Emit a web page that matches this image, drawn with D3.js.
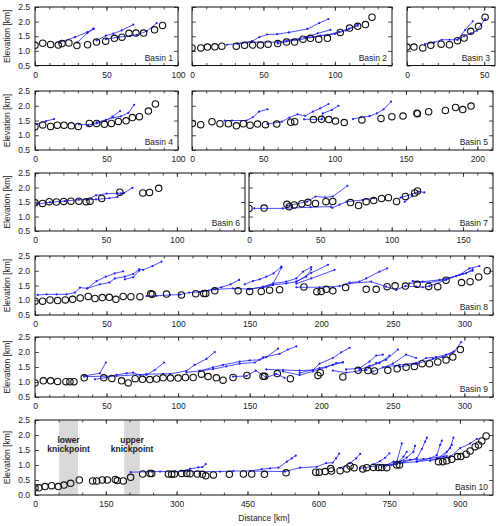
<!DOCTYPE html>
<html lang="en">
<head>
<meta charset="UTF-8">
<title>Basin profiles</title>
<script src="https://d3js.org/d3.v7.min.js"></script>
<style>
  body { margin: 0; background: #fff; }
  text { font-family: "Liberation Sans", Arial, sans-serif; }
</style>
</head>
<body>
<svg width="500" height="526"></svg>
<script>
// knickpoints (open circles) and tributary profiles (blue lines), [distance km, elevation km]
const basin1Knick = [[0,1.19],[5.4,1.26],[10.9,1.22],[16.3,1.2],[18.9,1.25],[23.7,1.27],[29.3,1.18],[36.8,1.21],[43,1.3],[49.4,1.33],[55.5,1.43],[60.8,1.47],[65.7,1.6],[70.6,1.61],[75.9,1.61],[83.6,1.72],[89.2,1.87]];
const basin1Trib = [
  [[17,1.29],[28,1.47],[36.6,1.64],[40.8,1.76]],
  [[29.6,1.29],[36.6,1.61],[41.2,1.75]],
  [[43.1,1.36],[49.6,1.52],[54.8,1.59],[60.6,1.7],[68.8,1.9]],
  [[49.6,1.4],[58.3,1.47],[66.4,1.51],[71.1,1.55],[78.1,1.67],[85.1,1.95]]
];

const basin2Knick = [[0,1.1],[6.2,1.1],[10.8,1.13],[16,1.14],[20.9,1.16],[31,1.16],[36.8,1.19],[42.5,1.2],[47.9,1.2],[53.3,1.23],[60,1.25],[66.2,1.3],[71.8,1.3],[77.7,1.4],[82.9,1.43],[88.7,1.4],[94.8,1.43],[103.8,1.63],[110.3,1.78],[116,1.84],[121.4,1.9],[126,2.15]];
const basin2Trib = [
  [[24.4,1.21],[31.9,1.25],[42,1.33],[47.2,1.47],[52.6,1.56],[59.6,1.57],[67.8,1.63],[80.8,1.75],[89,1.95],[95.5,2.09]],
  [[31.9,1.25],[42,1.3],[60,1.3],[70,1.38],[80,1.47],[88,1.6],[97,1.72]],
  [[60,1.25],[66,1.32],[75,1.38],[85,1.47],[95,1.55],[103,1.65],[110,1.76],[116,1.86]],
  [[80,1.45],[90,1.52],[100,1.58],[108,1.7],[116,1.9]]
];

const basin3Knick = [[0,1.13],[4.5,1.13],[10.2,1.1],[15.4,1.19],[22.1,1.23],[27.5,1.21],[32.7,1.35],[37,1.44],[41.3,1.67],[46.3,1.84],[50.6,2.15]];
const basin3Trib = [
  [[11.7,1.23],[17.6,1.29],[22.5,1.38],[27.5,1.38],[32.7,1.38],[37.7,1.72],[42.6,2.01]],
  [[32.7,1.38],[37,1.5],[41.3,1.6],[45.2,1.69],[50.6,2.09]]
];

const basin4Knick = [[0,1.29],[5.4,1.35],[10.9,1.3],[15.6,1.34],[20.3,1.34],[25.4,1.32],[30.3,1.3],[38,1.4],[43.1,1.4],[48.5,1.37],[53.4,1.4],[58.3,1.47],[63.7,1.49],[68.1,1.6],[73,1.63],[79.3,1.82],[84.2,2.06]];
const basin4Trib = [
  [[1.2,1.38],[7.7,1.48],[13.3,1.55]],
  [[30.8,1.37],[37.3,1.35],[43.1,1.4],[49,1.48],[54.1,1.63],[59.5,1.82]],
  [[43.1,1.44],[49.6,1.52],[54.8,1.6],[60,1.64],[65.3,1.76],[69.3,2.03]]
];

const basin5Knick = [[0.2,1.4],[6.1,1.36],[14,1.46],[19.6,1.39],[25.5,1.39],[31.1,1.32],[36,1.39],[40.7,1.34],[45.9,1.38],[51.5,1.36],[59.4,1.38],[69.2,1.44],[72,1.46],[85.1,1.53],[90.8,1.54],[95.9,1.53],[100.6,1.48],[106.7,1.43],[119.1,1.52],[132.5,1.57],[140.1,1.63],[147.9,1.65],[157.7,1.75],[158,1.73],[165.9,1.8],[177.6,1.84],[184.8,1.94],[189.8,1.87],[195.6,1.99]];
const basin5Trib = [
  [[22.8,1.5],[28.1,1.5],[38.2,1.5],[42.6,1.61],[47,1.8],[52.9,1.88]],
  [[52.9,1.38],[63,1.46],[68.3,1.6],[73.9,1.71],[79.3,1.66],[84.7,1.8],[89.8,1.91],[95.7,2.06]],
  [[78.6,1.54],[91,1.54],[91.7,1.74],[98,1.86],[102.7,2.0]],
  [[112.8,1.55],[118.6,1.61],[124.5,1.65],[129.6,1.74],[134.3,1.88],[139.5,2.14]]
];

const basin6Knick = [[0,1.47],[5.3,1.45],[10,1.51],[15.1,1.5],[20.2,1.52],[25.3,1.53],[30.9,1.53],[36,1.51],[38.8,1.53],[47,1.62],[59.8,1.84],[76,1.81],[80.7,1.83],[87.2,1.97]];
const basin6Trib = [
  [[1.2,1.43],[10.5,1.49],[20.9,1.53],[30.9,1.58],[36.5,1.58],[43,1.73],[50.5,1.79],[58.1,1.8],[62.8,1.81],[68.6,1.99]],
  [[36.5,1.58],[43,1.59],[52.3,1.63],[58.1,1.67],[60.5,1.79],[62.8,1.81]]
];

const basin7Knick = [[0,1.28],[10.6,1.29],[26.6,1.42],[28.2,1.34],[31.7,1.4],[37,1.44],[41.3,1.49],[46.6,1.45],[53.9,1.51],[58.7,1.52],[71.1,1.48],[76.8,1.38],[82.1,1.51],[87.4,1.55],[92.9,1.62],[97.7,1.65],[103.4,1.52],[109.6,1.69],[116.1,1.81],[118.1,1.88]];
const basin7Trib = [
  [[3.7,1.28],[23.6,1.28],[43.1,1.32],[57.3,1.34],[58.5,1.3],[63.5,1.41],[68.3,1.51],[79.8,1.57],[87.8,1.63]],
  [[26.6,1.37],[40.8,1.51],[46.6,1.69],[53.4,1.66],[58.7,1.69],[69,2.06]],
  [[106.2,1.65],[114.2,1.77],[118.8,1.86],[122.9,1.83]],
  [[109.2,1.51],[114.2,1.7]]
];

const basin8Knick = [[0,0.97],[5.3,0.97],[10.5,1.01],[15.8,0.99],[21.2,1.01],[26.3,1.03],[31.6,1.08],[37.2,1.13],[41.9,1.06],[47,1.09],[51.9,1.1],[56.5,1.03],[61.6,1.13],[67,1.12],[73.3,1.12],[80.9,1.22],[81.9,1.2],[91.9,1.21],[102.3,1.18],[112.3,1.22],[117.9,1.23],[119.3,1.23],[125.6,1.32],[141.9,1.32],[150,1.3],[158.1,1.3],[163.9,1.34],[170.9,1.36],[187.9,1.45],[196.9,1.29],[200,1.3],[203.5,1.37],[208.1,1.32],[217,1.43],[231.4,1.37],[238.4,1.37],[246,1.46],[251.6,1.49],[258.8,1.48],[267,1.54],[275.1,1.47],[281.4,1.46],[287.2,1.68],[298,1.6],[304,1.63],[310,1.79],[316,2.0]];
const basin8Trib = [
  [[1.9,1.18],[8.1,1.2],[15.1,1.2],[22.1,1.2],[27.9,1.26],[31.4,1.43],[36.5,1.4],[43,1.65],[49.5,1.8],[55.8,1.91],[61.6,1.98]],
  [[36.5,1.4],[45.3,1.54],[51.9,1.6],[55.8,1.74],[62.8,1.8],[68.6,1.89],[72.8,2.05],[75.6,2.03],[82.1,2.16],[88.4,2.31]],
  [[62.8,1.71],[68.6,1.78],[72.8,2.0]],
  [[77.9,1.14],[84.9,1.15],[94.2,1.18],[101.2,1.19],[107.7,1.26],[115.1,1.28],[124.4,1.37],[130.2,1.44],[136.7,1.54],[142.6,1.69]],
  [[115.1,1.28],[126,1.37],[138.4,1.4],[148.8,1.38],[159.3,1.44],[166.3,1.55],[172.1,2.1]],
  [[146.5,1.54],[152.3,1.65],[157,1.71],[161.6,1.8],[166.7,1.91],[172.1,2.14]],
  [[150,1.37],[159.3,1.46],[166.3,1.57],[175.6,1.63],[182.6,1.74],[187.2,1.97],[193,2.12]],
  [[159.3,1.42],[166.3,1.52],[175.6,1.57],[182.6,1.63],[189.5,1.8],[193,2.05]],
  [[182.6,1.63],[193,1.93],[204.7,2.2]],
  [[182.6,1.56],[193,1.74],[209.3,2.03]],
  [[182.6,1.44],[198.8,1.44],[212.8,1.48],[219.8,1.6],[226.7,1.63],[231.4,1.74],[240.7,1.97],[246,2.08]],
  [[219.8,1.57],[234.9,1.63],[245.3,1.46],[252.3,1.35],[258.8,1.48],[266.3,1.46],[270.9,1.44],[275.6,1.48],[287.2,1.69],[296.5,1.86],[303.5,2.08],[310.5,2.16]],
  [[261.6,1.57],[270.9,1.63],[282.6,1.69],[294.2,1.82],[301.2,1.91],[305.8,2.05]],
  [[263.9,1.65],[275.6,1.6],[287.2,1.71],[298.8,1.89],[305.8,2.0]]
];

const basin9Knick = [[0,0.97],[5.8,1.04],[10.9,1.04],[15.8,1.02],[21.6,1.01],[24.4,1.01],[27.2,1.01],[34.4,1.14],[48.1,1.14],[53.7,1.12],[60.5,1.04],[65.1,0.97],[70,1.11],[75.1,1.09],[80.2,1.08],[84.9,1.1],[89.5,1.14],[94.7,1.13],[100,1.13],[105.1,1.15],[110.5,1.15],[116.3,1.26],[120.9,1.18],[126.7,1.14],[131.4,1.06],[138.4,1.15],[148.1,1.22],[159.3,1.19],[160.5,1.19],[169.3,1.28],[178.4,1.11],[197.7,1.22],[199.3,1.31],[215.1,1.17],[225.8,1.39],[232.6,1.38],[237.2,1.37],[246.5,1.39],[253,1.44],[259.3,1.49],[265.1,1.52],[270.5,1.61],[275.6,1.61],[281.4,1.67],[287.2,1.73],[291.9,1.83],[297.2,2.08]];
const basin9Trib = [
  [[34.4,1.2],[45.3,1.29],[49.5,1.65]],
  [[41.9,1.09],[50,1.15],[57,1.24],[64,1.29],[68.6,1.31],[73.3,1.23],[77.9,1.24],[83.7,1.4],[90.2,1.65]],
  [[34.4,1.18],[57,1.2],[77.9,1.26],[89.5,1.27],[94.2,1.27],[105.8,1.37],[111.6,1.57],[119.8,1.77],[125.6,2.0]],
  [[105.8,1.32],[115.1,1.37],[124.4,1.49],[131.4,1.57],[143,1.68],[150,1.72],[157,1.74],[161.6,1.83],[169.8,2.11]],
  [[115.1,1.37],[124.4,1.43],[133.7,1.52],[143,1.61],[153.5,1.65],[159.3,1.82],[170.9,1.94],[176.7,2.08],[182.6,2.19]],
  [[138.4,1.18],[147.7,1.2],[154.2,1.38],[161.6,1.15],[168.6,1.27],[174.4,1.14]],
  [[161.6,1.42],[173.3,1.4],[184.9,1.38],[194.2,1.4],[198.8,1.61],[208.1,1.8],[213.9,1.99],[219.8,2.14]],
  [[173.3,1.35],[184.9,1.23],[194.2,1.35],[203.5,1.49],[210.5,1.63],[215.1,1.65]],
  [[184.9,1.3],[198.8,1.46],[208.1,1.57],[215.1,1.66]],
  [[208.1,1.38],[217.4,1.31],[231.4,1.4],[238.4,1.63],[245.3,1.74],[253.5,2.08]],
  [[217.4,1.42],[226.7,1.46],[233.7,1.68],[238.4,1.88],[243,1.91]],
  [[226.7,1.4],[233.7,1.54],[240.7,1.63],[247.7,1.88]],
  [[236,1.35],[250,1.61],[259.3,1.91],[266.3,1.8]],
  [[243,1.49],[254.7,1.57],[266.3,1.63],[273.3,1.8],[280.2,1.83],[287.2,1.91],[293,2.02],[297.7,2.33]],
  [[254.7,1.5],[266.3,1.6],[277.9,1.77],[284.9,1.83],[291.9,1.99]]
];

const basin10Knick = [[0,0.24],[8.5,0.24],[21.2,0.28],[35.3,0.31],[49.4,0.28],[61.4,0.33],[75.5,0.39],[93.8,0.5],[122.1,0.47],[130.6,0.47],[142.6,0.5],[153.2,0.5],[170.1,0.52],[174.4,0.48],[187.1,0.47],[202.6,0.59],[228,0.7],[243.5,0.72],[247.2,0.72],[282.5,0.7],[289.5,0.69],[295.2,0.7],[310.7,0.72],[321.3,0.72],[328.4,0.71],[343.9,0.7],[354.5,0.69],[361.6,0.64],[377.8,0.67],[411.7,0.69],[441.4,0.7],[459,0.7],[485.9,0.69],[531.8,0.74],[594.6,0.76],[602.3,0.76],[614.4,0.78],[626.4,0.88],[628,0.8],[646.2,0.81],[660.3,0.87],[667.4,0.97],[675.8,0.91],[694.2,0.87],[702.6,0.91],[716.8,0.92],[727.4,0.92],[734.4,0.92],[745,0.91],[766.2,1.0],[771.9,1.0],[854.5,1.11],[863.7,1.11],[872.2,1.14],[882.8,1.19],[894.8,1.28],[901.9,1.28],[913.1,1.36],[921.6,1.47],[932.2,1.61],[939.3,1.67],[946.3,1.8],[955.5,1.97]];
const basin10Trib = [
  [[202.6,0.76],[247.2,0.78],[264.9,0.78],[296.6,0.78],[317.8,0.8],[349.6,0.78],[392,0.78],[420.2,0.8],[455.5,0.8],[480.2,0.86],[497.9,0.89],[515.5,0.91],[533.2,1.11],[543.8,1.22],[552.2,1.31]],
  [[310.7,0.8],[328.4,0.87],[346,0.92],[354.5,0.93],[361.6,1.03]],
  [[455.5,0.8],[529.7,0.78],[561.4,0.91],[596.8,0.94],[616.5,1.06],[630.6,1.08],[637.7,1.22],[644.1,1.38]],
  [[646.2,0.9],[667.4,1.06],[680.1,1.22],[688.6,1.37]],
  [[716.8,1.02],[731,1.13],[741.5,1.24],[750.7,1.39]],
  [[745,0.98],[766.2,1.02],[780.4,1.28],[787.4,1.44]],
  [[755,1.0],[766.2,1.11],[776.8,1.72]],
  [[771.9,1.1],[787.4,1.25],[801.5,1.44],[805,1.64]],
  [[780.4,1.1],[808.6,1.22],[819.2,1.53],[826.3,1.78],[829.9,1.91]],
  [[808.6,1.12],[836.9,1.22],[851,1.33],[858.1,1.67],[861.6,1.81]],
  [[836.9,1.14],[865.1,1.28],[879.2,1.56],[886.2,1.91]],
  [[851,1.2],[872.2,1.44],[882.8,1.67]],
  [[879.2,1.28],[900.4,1.56],[921.6,1.72],[935.8,1.87]],
  [[688.6,0.89],[737.9,1.0],[773.3,1.06],[808.6,1.11],[851,1.19],[879.2,1.28]],
  [[737.9,0.95],[759.1,1.11],[794.5,1.17],[822.7,1.2],[851,1.25],[872.2,1.3]]
];

const bandLower = [51, 91];
const bandUpper = [189, 222];

const svg = d3.select('svg');
const blue = '#1f1fff';

const panels = [
  {name: 'Basin 1', knick: basin1Knick, trib: basin1Trib, x0: 35, x1: 178, y0: 7, y1: 65.5, xmax: 100, xt: [0,50,100], minor: 10, ylab: true},
  {name: 'Basin 2', knick: basin2Knick, trib: basin2Trib, x0: 192, x1: 392, y0: 7, y1: 65.5, xmax: 140, xt: [0,50,100], minor: 10},
  {name: 'Basin 3', knick: basin3Knick, trib: basin3Trib, x0: 407, x1: 495, y0: 7, y1: 65.5, xmax: 57, xt: [0,50], minor: 10},
  {name: 'Basin 4', knick: basin4Knick, trib: basin4Trib, x0: 35, x1: 178, y0: 91, y1: 150, xmax: 100, xt: [0,50,100], minor: 10, ylab: true},
  {name: 'Basin 5', knick: basin5Knick, trib: basin5Trib, x0: 192, x1: 493, y0: 91, y1: 150, xmax: 211, xt: [0,50,100,150,200], minor: 10},
  {name: 'Basin 6', knick: basin6Knick, trib: basin6Trib, x0: 35, x1: 245, y0: 173, y1: 231, xmax: 148, xt: [0,50,100], minor: 10, ylab: true},
  {name: 'Basin 7', knick: basin7Knick, trib: basin7Trib, x0: 249, x1: 493, y0: 173, y1: 231, xmax: 171, xt: [0,50,100,150], minor: 10},
  {name: 'Basin 8', knick: basin8Knick, trib: basin8Trib, x0: 35, x1: 493, y0: 256, y1: 315, xmax: 320, xt: [0,50,100,150,200,250,300], minor: 10, ylab: true},
  {name: 'Basin 9', knick: basin9Knick, trib: basin9Trib, x0: 35, x1: 493, y0: 337, y1: 397, xmax: 320, xt: [0,50,100,150,200,250,300], minor: 10, ylab: true},
  {name: 'Basin 10', knick: basin10Knick, trib: basin10Trib, x0: 35, x1: 493, y0: 420, y1: 495, xmax: 970, ymin: 0, xt: [0,150,300,450,600,750,900], minor: 50, ylab: true, bands: true}
];

panels.forEach((p, i) => {
  const ymin = p.ymin === undefined ? 0.5 : p.ymin;
  const x = d3.scaleLinear().domain([0, p.xmax]).range([p.x0, p.x1]);
  const y = d3.scaleLinear().domain([ymin, 2.5]).range([p.y1, p.y0]);
  const g = svg.append('g');

  g.append('clipPath').attr('id', 'clip' + i)
    .append('rect').attr('x', p.x0).attr('y', p.y0).attr('width', p.x1 - p.x0).attr('height', p.y1 - p.y0);

  if (p.bands) {
    [bandLower, bandUpper].forEach((b, j) => {
      g.append('rect')
        .attr('x', x(b[0])).attr('y', p.y0)
        .attr('width', x(b[1]) - x(b[0])).attr('height', p.y1 - p.y0)
        .attr('fill', '#d9d9d9');
      const t = g.append('text')
        .attr('text-anchor', 'middle')
        .attr('font-size', 8.5).attr('font-weight', 'bold').attr('fill', '#222');
      const cx = x((b[0] + b[1]) / 2);
      t.append('tspan').attr('x', cx).attr('y', 443).text(j === 0 ? 'lower' : 'upper');
      t.append('tspan').attr('x', cx).attr('y', 452).text('knickpoint');
    });
  }

  const yticks = d3.range(ymin, 2.51, 0.5);
  const minorX = d3.range(0, p.xmax + 0.01, p.minor);

  // inward ticks on all four sides
  g.append('g').attr('transform', `translate(0,${p.y1})`)
    .call(d3.axisBottom(x).tickValues(minorX).tickSize(-2.5).tickFormat(''));
  g.append('g').attr('transform', `translate(0,${p.y0})`)
    .call(d3.axisTop(x).tickValues(minorX).tickSize(-2.5).tickFormat(''));
  g.append('g').attr('transform', `translate(0,${p.y1})`)
    .call(d3.axisBottom(x).tickValues(p.xt).tickSize(-4).tickPadding(6).tickFormat(d3.format('d')));
  g.append('g').attr('transform', `translate(0,${p.y0})`)
    .call(d3.axisTop(x).tickValues(p.xt).tickSize(-4).tickFormat(''));
  g.append('g').attr('transform', `translate(${p.x0},0)`)
    .call(d3.axisLeft(y).tickValues(yticks).tickSize(-4).tickPadding(5)
      .tickFormat(p.ylab ? d3.format('.1f') : ''));
  g.append('g').attr('transform', `translate(${p.x1},0)`)
    .call(d3.axisRight(y).tickValues(yticks).tickSize(-4).tickFormat(''));

  g.selectAll('.domain').remove();
  g.selectAll('.tick line').attr('stroke', '#222').attr('stroke-width', 0.8);
  g.selectAll('.tick text').attr('font-size', 8.5).attr('fill', '#222')
    .attr('font-family', '"Liberation Sans", Arial, sans-serif');

  const plot = g.append('g').attr('clip-path', `url(#clip${i})`);
  const line = d3.line().x(d => x(d[0])).y(d => y(d[1]));

  plot.selectAll('path.trib').data(p.trib).join('path')
    .attr('class', 'trib')
    .attr('d', line)
    .attr('fill', 'none').attr('stroke', blue).attr('stroke-width', 0.8);

  plot.selectAll('circle.dot').data(p.trib.flat()).join('circle')
    .attr('class', 'dot')
    .attr('cx', d => x(d[0])).attr('cy', d => y(d[1])).attr('r', 1.1)
    .attr('fill', blue);

  plot.selectAll('circle.knick').data(p.knick).join('circle')
    .attr('class', 'knick')
    .attr('cx', d => x(d[0])).attr('cy', d => y(d[1])).attr('r', 3.2)
    .attr('fill', 'none').attr('stroke', '#111').attr('stroke-width', 1.1);

  g.append('rect')
    .attr('x', p.x0).attr('y', p.y0).attr('width', p.x1 - p.x0).attr('height', p.y1 - p.y0)
    .attr('fill', 'none').attr('stroke', '#111').attr('stroke-width', 1);

  g.append('text')
    .attr('x', p.x1 - 5).attr('y', p.y1 - 5)
    .attr('text-anchor', 'end').attr('font-size', 8.5).attr('fill', '#222')
    .text(p.name);

  if (p.ylab) {
    g.append('text')
      .attr('transform', `translate(10,${(p.y0 + p.y1) / 2}) rotate(-90)`)
      .attr('text-anchor', 'middle').attr('font-size', 8.5).attr('fill', '#222')
      .text('Elevation [km]');
  }
});

svg.append('text')
  .attr('x', 264).attr('y', 521)
  .attr('text-anchor', 'middle').attr('font-size', 8.5).attr('fill', '#222')
  .text('Distance [km]');
</script>
</body>
</html>
